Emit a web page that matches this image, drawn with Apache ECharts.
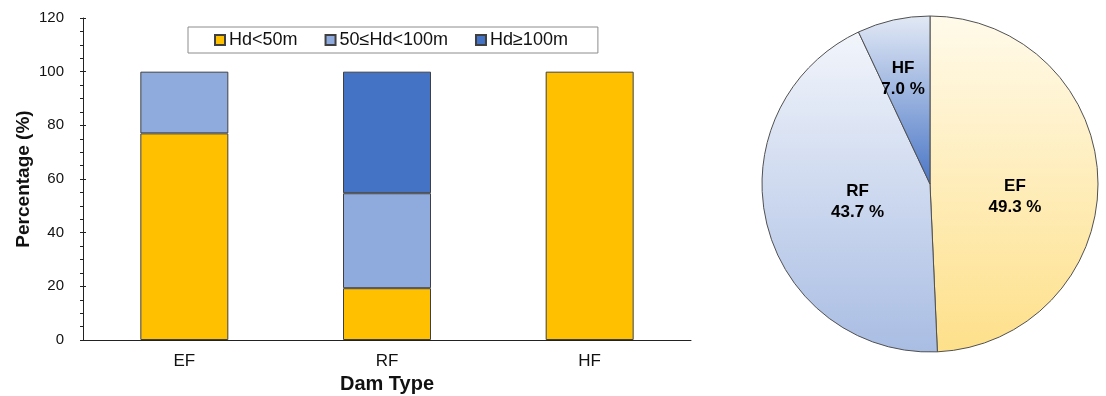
<!DOCTYPE html>
<html>
<head>
<meta charset="utf-8">
<script src="https://cdn.jsdelivr.net/npm/echarts@6/dist/echarts.min.js"></script>
<style>
html,body{margin:0;padding:0;background:#fff;}
#c{width:1106px;height:396px;}
</style>
</head>
<body>
<div id="c"></div>
<script>
// ---- data ----
const categories = ['EF', 'RF', 'HF'];
const seriesNames = ['Hd<50m', '50≤Hd<100m', 'Hd≥100m'];
const below50 = [77.0, 19.3, 100];
const mid50to100 = [23.0, 35.4, 0];
const above100 = [0, 45.3, 0];
const yTicks = [0, 20, 40, 60, 80, 100, 120];
const pieNames = ['EF', 'RF', 'HF'];
const pieValues = [49.3, 43.7, 7.0];

const barColors = ['#FFC000', '#8FAADC', '#4472C4'];
const font = 'Liberation Sans, Arial, sans-serif';

function grad(top, bottom) {
  return new echarts.graphic.LinearGradient(0, 0, 0, 1, [
    {offset: 0, color: top}, {offset: 1, color: bottom}
  ]);
}
const pieColors = [
  grad('#FFFAEA', '#FEE08A'),
  grad('#F2F5FB', '#A9BDE3'),
  grad('#E2E9F5', '#4A76C6')
];

const chart = echarts.init(document.getElementById('c'), null, {renderer: 'canvas'});

const barData = [below50, mid50to100, above100];
const barSeries = seriesNames.map((n, i) => ({
  name: n,
  type: 'bar',
  stack: 'total',
  barWidth: 88,
  data: barData[i].map(v => v === 0 ? null : v),
  itemStyle: {color: barColors[i], borderColor: '#404040', borderWidth: 1},
  emphasis: {disabled: true}
}));

const yMin = yTicks[0], yMax = yTicks[yTicks.length - 1];

chart.setOption({
  animation: false,
  textStyle: {fontFamily: font},
  legend: {
    data: seriesNames,
    left: 188,
    top: 27,
    padding: [4, 30, 4, 26],
    itemGap: 27,
    itemWidth: 10,
    itemHeight: 10,
    borderColor: '#8c8c8c',
    borderWidth: 1,
    icon: 'rect',
    textStyle: {fontSize: 18, color: '#111', fontFamily: font, padding: [0, 0, 0, -1]}
  },
  grid: {left: 83, top: 18, width: 608, height: 322, containLabel: false, outerBoundsMode: 'none'},
  xAxis: {
    type: 'category',
    data: categories,
    axisLine: {lineStyle: {color: '#222', width: 1}},
    axisTick: {show: false},
    axisLabel: {fontSize: 17, color: '#111', margin: 13},
    name: 'Dam Type',
    nameLocation: 'middle',
    nameGap: 32,
    nameTextStyle: {fontSize: 20, fontWeight: 'bold', color: '#111'}
  },
  yAxis: [{
    type: 'value',
    min: yMin,
    max: yMax,
    interval: 20,
    axisLine: {show: true, lineStyle: {color: '#222', width: 1}},
    axisTick: {show: true, inside: false, length: 3, lineStyle: {color: '#222'}},
    minorTick: {show: true, splitNumber: 4, length: 3, lineStyle: {color: '#222'}},
    splitLine: {show: false},
    axisLabel: {fontSize: 15, color: '#111', margin: 19},
    name: 'Percentage (%)',
    nameLocation: 'middle',
    nameGap: 50,
    nameMoveOverlap: false,
    nameTextStyle: {fontSize: 19, fontWeight: 'bold', color: '#111'}
  }, {
    type: 'value',
    position: 'left',
    min: yMin,
    max: yMax,
    interval: 20,
    axisLine: {show: false},
    axisTick: {show: true, inside: true, length: 3, lineStyle: {color: '#222'}},
    axisLabel: {show: false},
    splitLine: {show: false}
  }],
  series: barSeries.concat([{
    type: 'pie',
    center: [930, 184],
    radius: 168,
    startAngle: 90,
    clockwise: true,
    silent: true,
    data: pieNames.map((n, i) => ({
      name: n, value: pieValues[i],
      itemStyle: {color: pieColors[i]}
    })),
    itemStyle: {borderColor: '#505050', borderWidth: 1},
    label: {
      show: true,
      position: 'inside',
      formatter: p => p.name + '\n' + p.value.toFixed(1) + ' %',
      fontSize: 17,
      fontWeight: 'bold',
      color: '#000',
      lineHeight: 21,
      fontFamily: font
    },
    labelLine: {show: false},
    labelLayout: function (p) {
      const adj = [[-2, 15], [12, -3], [-8, -20]];
      return {dx: adj[p.dataIndex][0], dy: adj[p.dataIndex][1]};
    }
  }])
});
</script>
</body>
</html>
